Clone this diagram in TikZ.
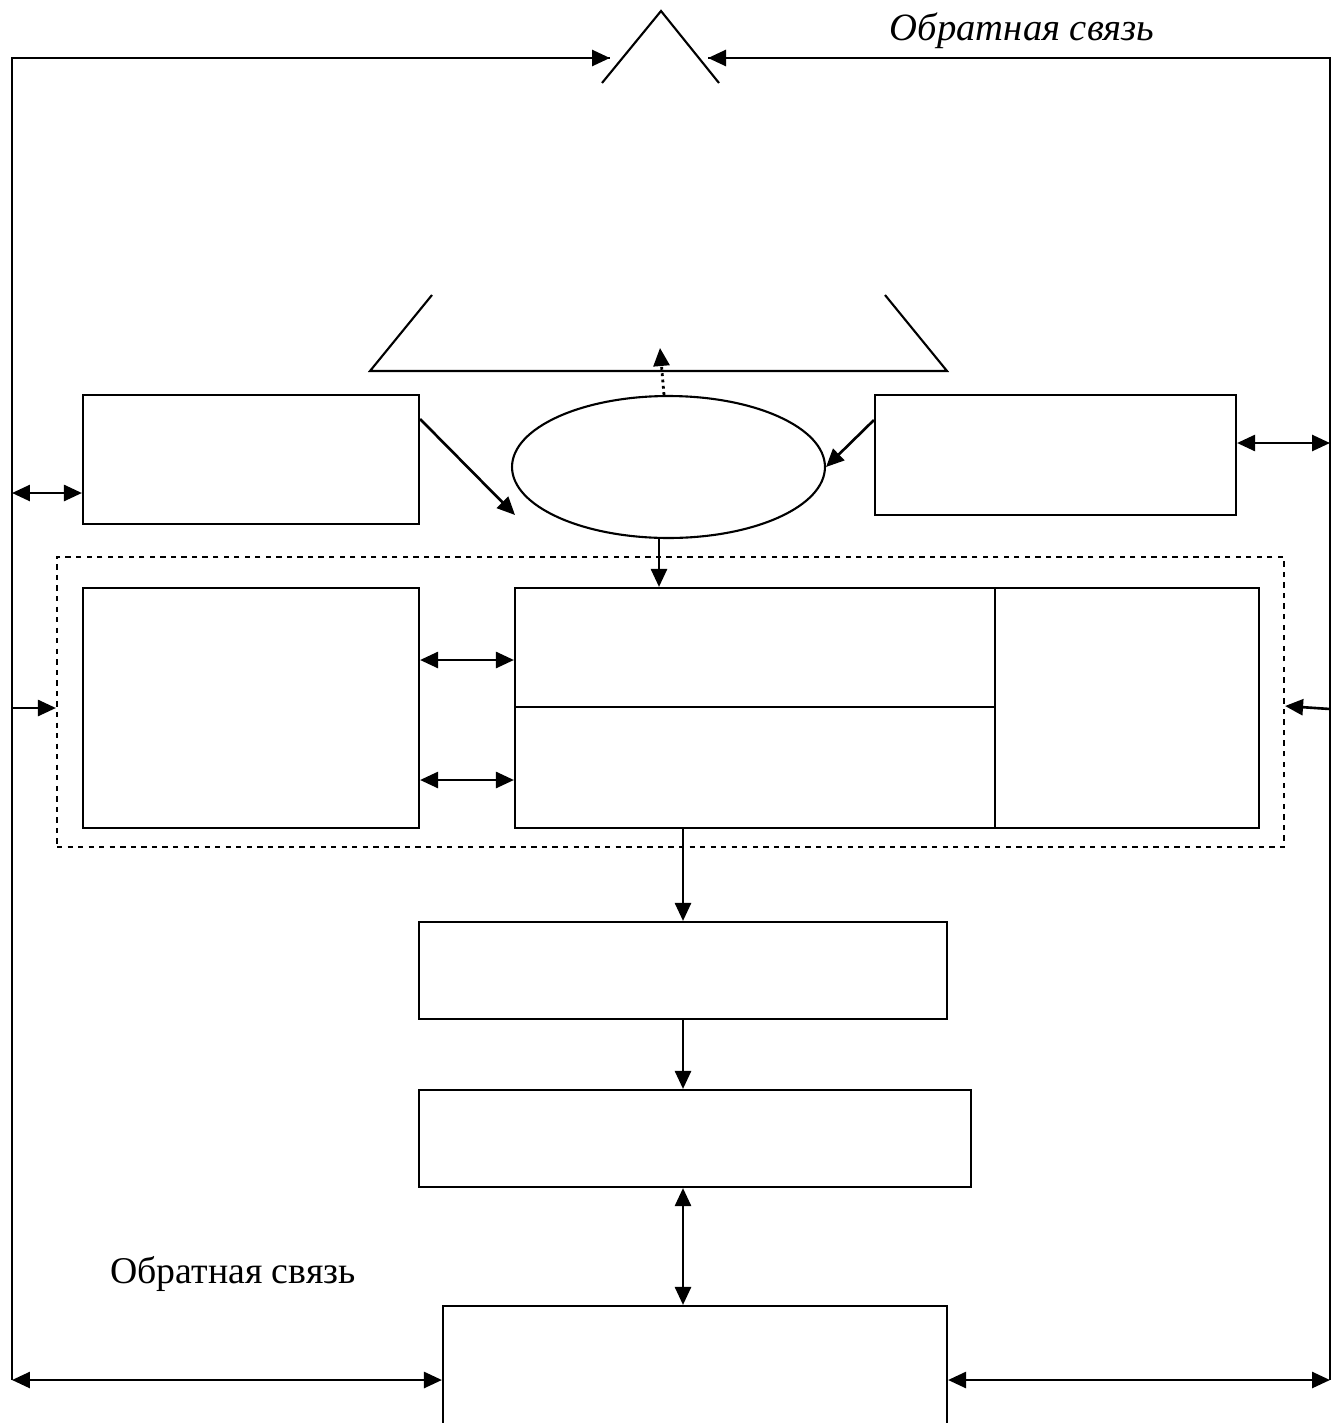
\documentclass[tikz,border=0pt]{standalone}
\usepackage{fontspec}
\setmainfont{Liberation Serif}
\usetikzlibrary{arrows.meta,shapes.geometric,fit}
\begin{document}
\begin{tikzpicture}[x=0.02cm,y=-0.02cm,
  line width=1.5pt,
  box/.style={draw,rectangle,inner sep=0pt,line width=1.2pt},
  arr/.style={-{Triangle[length=0.36cm,width=0.32cm]}},
  darr/.style={{Triangle[length=0.36cm,width=0.32cm]}-{Triangle[length=0.36cm,width=0.32cm]}},
  lbl/.style={font=\fontsize{21.5}{26}\selectfont,inner sep=0pt}]
\useasboundingbox (0,0) rectangle (1339,1423);
% frame corners and points
\coordinate (tl) at (12,58);
\coordinate (tr) at (1330,58);
\coordinate (bl) at (12,1380);
\coordinate (br) at (1330,1380);
\coordinate (topL) at (610,58);
\coordinate (topR) at (708,58);
\coordinate (lA) at (12,493);
\coordinate (lB) at (12,708);
\coordinate (rA) at (1330,443);
\coordinate (rB) at (1330,709);
% boxes
\node[box,fit={(83,395) (419,524)}] (lbox) {};
\node[box,fit={(875,395) (1236,515)}] (rbox) {};
\node[draw,ellipse,inner sep=0pt,line width=1.2pt,minimum width=6.26cm,minimum height=2.84cm] (el) at (668.5,467) {};
\node[draw,dashed,rectangle,inner sep=0pt,line width=1.2pt,fit={(57,557) (1284,847)}] (dash) {};
\node[box,fit={(83,588) (419,828)}] (ibox) {};
\node[box,fit={(515,588) (995,707)}] (m1) {};
\node[box,fit={(515,707) (995,828)}] (m2) {};
\node[box,fit={(995,588) (1259,828)}] (mr) {};
\node[box,fit={(419,922) (947,1019)}] (b3) {};
\node[box,fit={(419,1090) (971,1187)}] (b4) {};
\node[box,fit={(443,1306) (947,1440)}] (b5) {};
% triangle and trapezoid
\draw[line width=1.2pt] (602,83) -- (661,11) -- (719,83);
\draw[line width=1.2pt] (432,295) -- (370,371) -- (947,371) -- (885,295);
% frame
\draw (bl) -- (tl) -- (topL);
\draw (br) -- (tr) -- (topR);
\draw[arr] (tl) -- (topL);
\draw[arr] (tr) -- (topR);
% labels
\node[lbl,font=\fontsize{22}{26}\selectfont\itshape] (t1) at (1022,31) {Обратная связь};
\node[lbl] (t2) at (233,1274) {Обратная связь};
% connectors
\draw[darr] (lA) -- (lbox.west |- lA);
\draw[darr] (rbox.east |- rA) -- (rA);
\draw[arr] (lB) -- (dash.west |- lB);
\draw[arr] (rB) -- (dash.east |- 0,706);
\draw[arr] (lbox.north east |- 0,419) -- (515,515);
\draw[arr] (rbox.west |- 0,420) -- (826,467);
\draw[arr,dotted,line width=1.6pt] (el.north -| 664,0) -- (660,348);
\draw[arr] (el.south -| 659,0) -- (m1.north -| 659,0);
\draw[darr] (ibox.east |- 0,660) -- (m1.west |- 0,660);
\draw[darr] (ibox.east |- 0,780) -- (m2.west |- 0,780);
\draw[arr] (m2.south -| 683,0) -- (b3.north -| 683,0);
\draw[arr] (b3.south -| 683,0) -- (b4.north -| 683,0);
\draw[darr] (b4.south -| 683,0) -- (b5.north -| 683,0);
\draw[darr] (bl) -- (b5.west |- bl);
\draw[darr] (b5.east |- br) -- (br);
\end{tikzpicture}
\end{document}
